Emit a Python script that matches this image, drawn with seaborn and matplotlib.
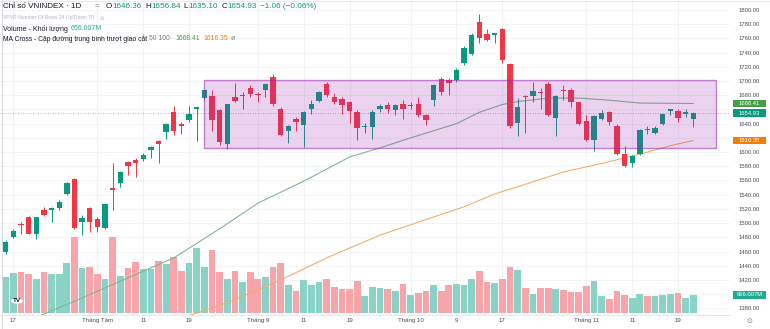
import matplotlib
matplotlib.use("Agg")
import matplotlib.pyplot as plt
from matplotlib.patches import Rectangle, Circle
from matplotlib.lines import Line2D
import seaborn as sns
import pandas as pd

# ---------------- data (VNINDEX daily, 16 Jul - 21 Nov) ----------------
opens = [1460, 1481, 1498, 1508, 1485, 1518, 1519, 1521, 1541, 1562,
         1501, 1521, 1506, 1493, 1549, 1557, 1586, 1589, 1590, 1603,
         1615, 1628, 1657, 1640, 1645, 1661, 1676, 1679, 1659, 1612,
         1678, 1679, 1690, 1682, 1688, 1705, 1660, 1629, 1647, 1638,
         1661, 1672, 1696, 1678, 1675, 1670, 1657, 1635, 1635, 1660,
         1666, 1659, 1667, 1665, 1668, 1652, 1673, 1703, 1702, 1701,
         1725, 1738, 1783, 1766, 1765, 1773, 1724, 1641, 1679, 1679,
         1685, 1696, 1648, 1687, 1688, 1670, 1644, 1617, 1647, 1656,
         1636, 1597, 1584, 1597, 1633, 1627, 1640, 1658, 1658, 1653,
         1646.36]
highs = [1476, 1491, 1501, 1510, 1509, 1522, 1523, 1533, 1558, 1564,
         1511, 1523, 1508, 1528, 1584, 1573, 1588, 1591, 1599, 1609,
         1617, 1641, 1665, 1642, 1665, 1664, 1688, 1687, 1661, 1668,
         1697, 1685, 1695, 1685, 1697, 1710, 1664, 1638, 1649, 1658,
         1673, 1686, 1699, 1683, 1677, 1672, 1659, 1641, 1659, 1668,
         1671, 1668, 1674, 1671, 1678, 1654, 1696, 1705, 1704, 1718,
         1749, 1767, 1794, 1773, 1768, 1775, 1726, 1676, 1680, 1698,
         1690, 1698, 1681, 1695, 1690, 1671, 1652, 1652, 1659, 1658,
         1640, 1608, 1596, 1632, 1637, 1637, 1654, 1661, 1660, 1660,
         1656.84]
lows = [1457, 1479, 1485, 1484, 1477, 1510, 1502, 1519, 1539, 1492,
        1483, 1488, 1488, 1492, 1519, 1551, 1568, 1565, 1588, 1591,
        1585, 1619, 1624, 1626, 1643, 1615, 1674, 1629, 1610, 1604,
        1671, 1660, 1678, 1671, 1678, 1665, 1622, 1613, 1629, 1607,
        1654, 1670, 1677, 1668, 1654, 1641, 1617, 1627, 1619, 1656,
        1655, 1652, 1646, 1660, 1649, 1638, 1665, 1680, 1680, 1699,
        1723, 1736, 1753, 1757, 1754, 1725, 1634, 1623, 1627, 1671,
        1660, 1651, 1622, 1673, 1663, 1638, 1615, 1601, 1645, 1638,
        1596, 1579, 1579, 1596, 1626, 1625, 1638, 1652, 1643, 1649,
        1635.10]
closes = [1474, 1489, 1497, 1485, 1508, 1512, 1521, 1530, 1556, 1493,
          1507, 1502, 1495, 1527, 1547, 1572, 1580, 1584, 1596, 1607,
          1611, 1640, 1629, 1636, 1653, 1663, 1687, 1645, 1614, 1667,
          1672, 1681, 1682, 1681, 1696, 1667, 1624, 1637, 1643, 1657,
          1667, 1684, 1680, 1670, 1666, 1658, 1634, 1636, 1657, 1665,
          1660, 1666, 1661, 1666, 1652, 1645, 1694, 1685, 1697, 1716,
          1747, 1765, 1761, 1758, 1767, 1730, 1636, 1663, 1677, 1686,
          1683, 1652, 1679, 1686, 1670, 1640, 1617, 1651, 1655, 1643,
          1597, 1580, 1594, 1631, 1631, 1634, 1653, 1660, 1648, 1656,
          1654.93]
volumes_m = [1321, 1469, 1506, 1443, 1258, 1506, 1443, 1454, 1861, 2801,
             1676, 1713, 1432, 1258, 2823, 1369, 1676, 1887, 1628, 1628,
             1935, 1813, 2083, 1565, 1861, 2394, 1691, 2331, 1506, 1247,
             1543, 1136, 1517, 1258, 1321, 1713, 1839, 1036, 825, 1221,
             1036, 1136, 1258, 973, 877, 877, 1184, 640, 951, 936,
             899, 814, 1073, 666, 751, 825, 1025, 814, 1036, 1073,
             1025, 1258, 1554, 1136, 1121, 1258, 1713, 1591, 914, 703,
             936, 925, 899, 840, 766, 777, 988, 1184, 629, 529,
             825, 655, 566, 692, 640, 640, 655, 714, 751, 566,
             666.007]

ma50_idx = [3, 9, 22, 28, 33, 39, 45, 49, 53, 59, 62, 65, 67, 71, 75, 79, 83, 90]
ma50_val = [1363, 1390, 1451, 1492, 1528, 1559, 1593, 1606, 1620, 1640,
            1656, 1667, 1671, 1676, 1676, 1673, 1669, 1668.41]
ma100_idx = [23, 29, 36, 42, 49, 55, 60, 64, 69, 73, 78, 83, 87, 90]
ma100_val = [1366, 1388, 1420, 1451, 1483, 1505, 1523, 1541, 1558, 1572,
             1584, 1597, 1609, 1616.35]

tick_idx = [1, 12, 18, 24, 33, 39, 45, 53, 59, 65, 76, 82, 88]
tick_labels = ["17", "Tháng Tám", "11", "19", "Tháng 9", "11", "19",
               "Tháng 10", "9", "17", "Tháng 11", "11", "19"]
price_ticks = list(range(1380, 1801, 20))
hidden_price_labels = [1400, 1620, 1660]   # covered by the value tags
box_idx = [26, 93]
box_price = [1605.5, 1701.5]

# ---------------- style ----------------
sns.set_theme(style="white")
plt.rcParams['font.family'] = ['Liberation Sans', 'DejaVu Sans']

UP, DOWN = '#089981', '#f23645'
VUP, VDOWN = '#8ad2c6', '#f7a4ab'
W, H = 770, 329

fig = plt.figure(figsize=(W / 100, H / 100), dpi=100)
fig.patch.set_facecolor('white')
pos = [0, 14 / H, 730 / W, 315 / H]
xlim = (-0.75, 94.8)
ylim = (1370.6, 1814.1)

# grid axes (bottom)
gax = fig.add_axes(pos, zorder=0)
gax.set_xlim(*xlim); gax.set_ylim(*ylim)
for t in tick_idx:
    gax.axvline(t, color='#eef0f4', lw=0.6)
for p in price_ticks:
    gax.axhline(p, color='#f1f3f6', lw=0.6)
gax.axis('off')

# volume axes
vax = fig.add_axes(pos, zorder=1)
vdf = pd.DataFrame({'idx': list(range(len(volumes_m))), 'vol': volumes_m,
                    'dir': ['up' if c >= o else 'down' for o, c in zip(opens, closes)]})
sns.barplot(data=vdf, x='idx', y='vol', hue='dir', palette={'up': VUP, 'down': VDOWN},
            native_scale=True, dodge=False, width=0.88, saturation=1, errorbar=None,
            legend=False, ax=vax, linewidth=0)
vax.set_xlim(*xlim)
vax.set_ylim(-74, 11581)
vax.patch.set_visible(False)
vax.axis('off')

# price axes
ax = fig.add_axes(pos, zorder=2)
ax.patch.set_visible(False)
idx = list(range(len(opens)))
cols = [UP if c >= o else DOWN for o, c in zip(opens, closes)]
ax.vlines(idx, lows, highs, colors=cols, lw=0.7, zorder=3)
bottoms = [min(o, c) for o, c in zip(opens, closes)]
heights = [max(abs(c - o), 1.3) for o, c in zip(opens, closes)]
ax.bar(idx, heights, bottom=bottoms, width=0.7, color=cols, lw=0, zorder=4)

sns.lineplot(x=ma50_idx, y=ma50_val, ax=ax, color='#7fb88c', lw=0.8, zorder=2)
sns.lineplot(x=ma100_idx, y=ma100_val, ax=ax, color='#f3ad6c', lw=0.8, zorder=2)

ax.add_patch(Rectangle((box_idx[0], box_price[0]), box_idx[1] - box_idx[0],
                       box_price[1] - box_price[0], facecolor=(0.61, 0.15, 0.69, 0.2),
                       edgecolor=(0.61, 0.15, 0.69, 0.55), lw=1.0, zorder=5))
ax.axhline(closes[-1], color='#9aa0a6', lw=0.6, ls=(0, (1, 2)), zorder=1)

ax.set_xlim(*xlim); ax.set_ylim(*ylim)
ax.set_xticks(tick_idx)
ax.set_xticklabels(tick_labels, fontsize=4.4, color='#4a4e59')
ax.yaxis.tick_right()
ax.set_yticks(price_ticks)
ax.set_yticklabels(["" if p in hidden_price_labels else f"{p:.2f}" for p in price_ticks],
                   fontsize=4.2, color='#4a4e59')
ax.tick_params(axis='x', length=0, pad=2)
ax.tick_params(axis='y', length=0, pad=5.8)
ax.set_xlabel(''); ax.set_ylabel('')
for s in ['left', 'right', 'top']:
    ax.spines[s].set_visible(False)
ax.spines['bottom'].set_color('#e0e3eb'); ax.spines['bottom'].set_linewidth(0.6)

# borders
fig.add_artist(Line2D([2 / W, 2 / W], [0, 1], color='#d6d9de', lw=0.8))
fig.add_artist(Line2D([0, 1], [1 - 1 / H, 1 - 1 / H], color='#e6e8ec', lw=0.8))

# ---------------- right tags ----------------
fig.canvas.draw()
r = fig.canvas.get_renderer()


def tag(axis, value, text, color):
    yd = axis.transData.transform((0, value))[1]
    fig.add_artist(Rectangle((733 / W, (yd - 3.6) / H), 33 / W, 7.2 / H,
                             transform=fig.transFigure, facecolor=color, edgecolor='none', zorder=10))
    fig.text(749.5 / W, yd / H, text, color='white', fontsize=4.2, ha='center', va='center', zorder=11)


tag(ax, ma50_val[-1], f"{ma50_val[-1]:.2f}", '#43a047')
tag(ax, closes[-1], f"{closes[-1]:.2f}", UP)
tag(ax, ma100_val[-1], f"{ma100_val[-1]:.2f}", '#f57c00')
tag(vax, volumes_m[-1], "666.007M", '#22ab94')

# ---------------- header legend ----------------


def seq(pieces, x0, py, size):
    x = x0
    for s, c, gap in pieces:
        t = fig.text(x / W, 1 - py / H, s, color=c, fontsize=size, va='center', ha='left', zorder=12)
        bb = t.get_window_extent(renderer=r)
        x = bb.x1 + gap


DARK, GRAY, LGRAY = '#131722', '#787b86', '#b2b5be'
seq([("Chỉ số VNINDEX · 1D", DARK, 13), ("=", GRAY, 7),
     ("O", DARK, 0.5), ("1646.36", UP, 3), ("H", DARK, 0.5), ("1656.84", UP, 3),
     ("L", DARK, 0.5), ("1635.10", UP, 3), ("C", DARK, 0.5), ("1654.93", UP, 3),
     ("−1.06 (−0.06%)", UP, 0)], 3, 7, 5.9)
seq([("VPVR Number Of Rows 24 Up/Down 70", LGRAY, 5), ("⊘", LGRAY, 0)], 3, 18, 3.7)
seq([("Volume - Khối lượng", DARK, 3), ("666.007M", '#22ab94', 0)], 3, 29, 5.0)
seq([("MA Cross - Cặp đường trung bình trượt giao cắt", DARK, 2), ("50 100", GRAY, 6),
     ("1668.41", '#43a047', 3), ("1616.35", '#f57c00', 3), ("ø", GRAY, 0)], 3, 39, 4.9)

# TradingView logo & settings icon
fig.add_artist(Circle((17 / W, 1 - 301 / H), 6 / W, transform=fig.transFigure,
                      facecolor='white', edgecolor='none', zorder=12))
fig.text(17 / W, 1 - 301 / H, "TV", fontsize=4.5, fontweight='bold', color='#131722',
         ha='center', va='center', zorder=13)
fig.text(749.5 / W, 1 - 321 / H, "⊙", fontsize=5, color='#787b86', ha='center', va='center',
         family=['DejaVu Sans'])

fig.savefig('out.png', dpi=100)
